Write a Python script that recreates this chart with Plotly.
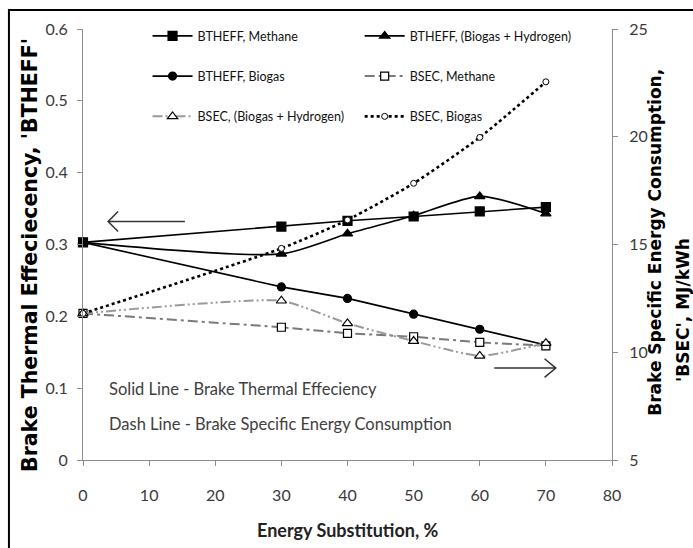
import plotly.graph_objects as go

# ---- data ----
substitution = [0, 30, 40, 50, 60, 70]
bth_methane = [0.303, 0.325, 0.333, 0.339, 0.346, 0.352]
bth_biogas_h2 = [0.303, 0.287, 0.315, 0.340, 0.367, 0.343]
bth_biogas = [0.303, 0.241, 0.225, 0.203, 0.182, 0.160]
bsec_methane = [11.8, 11.16, 10.88, 10.72, 10.46, 10.30]
bsec_biogas_h2 = [11.8, 12.39, 11.34, 10.52, 9.83, 10.42]
bsec_biogas = [11.8, 14.82, 16.14, 17.84, 19.97, 22.55]

x_ticks = [0, 10, 20, 30, 40, 50, 60, 70, 80]
left_ticks = [0, 0.1, 0.2, 0.3, 0.4, 0.5, 0.6]
right_ticks = [5, 10, 15, 20, 25]

FONT = "Lato"
TICK_COLOR = "#3a3a3a"
AXIS_COLOR = "#8c8c8c"

fig = go.Figure()

def add(name, y, yaxis, symbol, size, color, dash, width, shape, smooth, fill, legend, group, mline=1.2):
    fig.add_trace(go.Scatter(
        x=substitution, y=y, name=name, yaxis=yaxis, mode="lines+markers",
        line=dict(color=color, dash=dash, width=width, shape=shape, smoothing=smooth),
        marker=dict(symbol=symbol, size=size, color=fill,
                    line=dict(color="black", width=mline)),
        cliponaxis=False, legend=legend, legendgroup=group,
    ))

add("BTHEFF, Methane", bth_methane, "y", "square", 9, "black", "solid", 1.6, "linear", 0, "black", "legend", "g1")
add("BTHEFF, (Biogas + Hydrogen)", bth_biogas_h2, "y", "triangle-up", 9, "black", "solid", 1.6, "spline", 0.7, "black", "legend2", "g2")
add("BTHEFF, Biogas", bth_biogas, "y", "circle", 8, "black", "solid", 1.6, "linear", 0, "black", "legend", "g3")
add("BSEC, Methane", bsec_methane, "y2", "square", 8, "#7a7a7a", "10px,4px,3px,4px", 2.0, "linear", 0, "white", "legend2", "g4")
add("BSEC, (Biogas + Hydrogen)", bsec_biogas_h2, "y2", "triangle-up", 9, "#9a9a9a", "10px,3px,2px,3px,2px,3px", 2.0, "spline", 0.5, "white", "legend", "g5")
add("BSEC, Biogas", bsec_biogas, "y2", "circle", 6, "black", "3px,3px", 2.6, "spline", 0.6, "white", "legend2", "g6", mline=1)

legend_common = dict(
    orientation="v", traceorder="grouped", tracegroupgap=21,
    font=dict(family=FONT, size=12.5, color="#111111"),
    bgcolor="rgba(0,0,0,0)", itemwidth=40,
    xanchor="left", yanchor="top",
)

fig.update_layout(
    width=693, height=548,
    margin=dict(l=83, r=81, t=29, b=88),
    paper_bgcolor="white", plot_bgcolor="white",
    font=dict(family=FONT, color=TICK_COLOR),
    showlegend=True,
    legend=dict(x=0.122, y=1.018, **legend_common),
    legend2=dict(x=0.523, y=1.018, **legend_common),
    xaxis=dict(
        range=[0, 80], tickvals=x_ticks, showgrid=False, zeroline=False,
        showline=True, linecolor=AXIS_COLOR, linewidth=1,
        ticks="outside", ticklen=5, tickcolor=AXIS_COLOR,
        tickfont=dict(family=FONT, size=16, color=TICK_COLOR),
        ticklabelstandoff=16,
    ),
    yaxis=dict(
        range=[0, 0.6], tickvals=left_ticks, showgrid=False, zeroline=False,
        showline=True, linecolor=AXIS_COLOR, linewidth=1,
        ticks="outside", ticklen=5, tickcolor=AXIS_COLOR,
        tickfont=dict(family=FONT, size=16, color=TICK_COLOR),
        ticklabelstandoff=6,
    ),
    yaxis2=dict(
        range=[5, 25], tickvals=right_ticks, overlaying="y", side="right",
        showgrid=False, zeroline=False,
        showline=True, linecolor=AXIS_COLOR, linewidth=1,
        ticks="outside", ticklen=5, tickcolor=AXIS_COLOR,
        tickfont=dict(family=FONT, size=16, color=TICK_COLOR),
        ticklabelstandoff=8,
    ),
)

# titles
fig.add_annotation(text="Energy Substitution, %", xref="paper", yref="paper",
                   x=0.5, y=-0.162, showarrow=False, xanchor="center", yanchor="middle",
                   font=dict(family=FONT, size=18, color="#222222", weight="bold"))
fig.add_annotation(text="Brake Thermal Effeciecency, 'BTHEFF'", xref="paper", yref="paper",
                   x=-0.100, y=0.476, showarrow=False, textangle=-90,
                   xanchor="center", yanchor="middle",
                   font=dict(family="DejaVu Sans", size=20.5, color="black", weight="bold"))
fig.add_annotation(text="Brake Specific Energy Consumption,", xref="paper", yref="paper",
                   x=1.081, y=0.506, showarrow=False, textangle=-90,
                   xanchor="center", yanchor="middle",
                   font=dict(family="DejaVu Sans", size=17, color="black", weight="bold"))
fig.add_annotation(text="'BSEC', MJ/kWh", xref="paper", yref="paper",
                   x=1.134, y=0.348, showarrow=False, textangle=-90,
                   xanchor="center", yanchor="middle",
                   font=dict(family="DejaVu Sans", size=17, color="black", weight="bold"))

# notes inside the plot
fig.add_annotation(text="Solid Line - Brake Thermal Effeciency", xref="paper", yref="paper",
                   x=0.045, y=0.165, showarrow=False, xanchor="left", yanchor="middle",
                   font=dict(family=FONT, size=16.5, color="#404040"))
fig.add_annotation(text="Dash Line - Brake Specific Energy Consumption", xref="paper", yref="paper",
                   x=0.045, y=0.0835, showarrow=False, xanchor="left", yanchor="middle",
                   font=dict(family=FONT, size=16.5, color="#404040"))

# arrows (open chevrons) indicating axis association
fig.add_shape(type="path", xref="x", yref="y",
              path="M 15.4 0.332 L 3.8 0.332 M 5.3 0.346 L 3.8 0.332 L 5.3 0.318",
              line=dict(color="#333333", width=1.5))
fig.add_shape(type="path", xref="x", yref="y",
              path="M 62.2 0.128 L 71.5 0.128 M 69.8 0.141 L 71.5 0.128 L 69.8 0.115",
              line=dict(color="#333333", width=1.5))

# outer frame (left and top edges visible)
fig.add_shape(type="rect", xref="paper", yref="paper",
              x0=-0.140, x1=1.2, y0=-0.25, y1=1.044,
              line=dict(color="black", width=2), layer="above")

fig.write_html("out.html")
